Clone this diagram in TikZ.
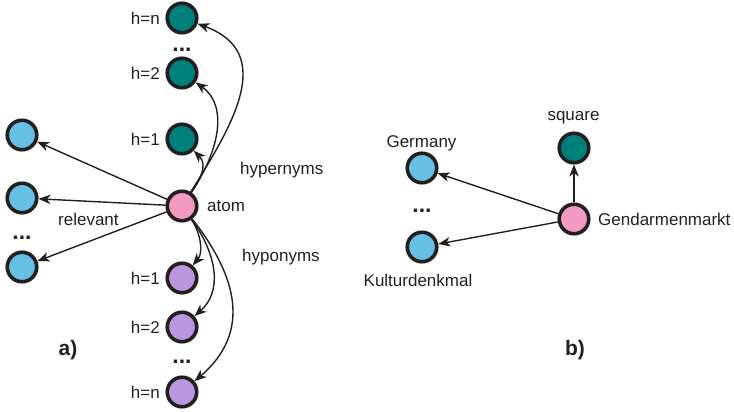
\documentclass[tikz,border=0pt]{standalone}
\usepackage{fontspec}
\setmainfont{Liberation Sans}
\usetikzlibrary{arrows.meta}
\definecolor{tealc}{RGB}{0,128,122}
\definecolor{pinkc}{RGB}{242,154,194}
\definecolor{bluec}{RGB}{102,192,228}
\definecolor{purpc}{RGB}{186,150,220}
\definecolor{txt}{RGB}{35,31,32}
\tikzset{
  dot/.style={circle,draw=txt,line width=3.6pt,minimum size=29.5pt,inner sep=0pt},
  hyper/.style={dot,fill=tealc},
  hypo/.style={dot,fill=purpc},
  rel/.style={dot,fill=bluec},
  src/.style={dot,fill=pinkc},
  lbl/.style={inner sep=0pt,text=txt,font=\fontsize{17}{20}\selectfont},
  dots/.style={inner sep=0pt,text=txt,font=\fontsize{23}{26}\selectfont\bfseries},
  panel/.style={inner sep=0pt,text=txt,font=\fontsize{21}{24}\selectfont\bfseries},
  conn/.style={draw=txt,line width=1.4pt,-{Stealth[length=12pt,width=9.5pt,inset=3.5pt]}}
}
\begin{document}
\begin{tikzpicture}[x=1pt,y=1pt]
\useasboundingbox (0,0) rectangle (734,412);
% panel a
\node[src] (atom) at (182,206) {};
\node[hyper] (T1) at (182,273) {};
\node[hyper] (T2) at (182,339) {};
\node[hyper] (Tn) at (182,394) {};
\node[hypo] (P1) at (182,134) {};
\node[hypo] (P2) at (182,85) {};
\node[hypo] (Pn) at (182,20) {};
\node[rel] (B1) at (22,277) {};
\node[rel] (B2) at (22,214) {};
\node[rel] (B3) at (22,145) {};
\node[dots,anchor=base] (dT) at (182,360) {...};
\node[dots,anchor=base] (dP) at (182,48) {...};
\node[dots,anchor=base] (dB) at (22,172) {...};
\node[lbl,anchor=base east] (lTn) at (160,387) {h=n};
\node[lbl,anchor=base east] (lT2) at (160,332) {h=2};
\node[lbl,anchor=base east] (lT1) at (160,266) {h=1};
\node[lbl,anchor=base east] (lP1) at (160,127) {h=1};
\node[lbl,anchor=base east] (lP2) at (160,78) {h=2};
\node[lbl,anchor=base east] (lPn) at (160,13) {h=n};
\node[lbl,anchor=base west] (latom) at (207,200) {atom};
\node[lbl,anchor=base west] (lhyper) at (240,237) {hypernyms};
\node[lbl,anchor=base west] (lhypo) at (242,150) {hyponyms};
\node[lbl,anchor=base west] (lrel) at (58,186) {relevant};
\node[panel,anchor=base] (pa) at (68,56) {a)};
\draw[conn] (atom) -- (B1);
\draw[conn] (atom) -- (B2);
\draw[conn] (atom) -- (B3);
\draw[conn] (atom) .. controls +(18,26) and +(26,-26) .. (T1);
\draw[conn] (atom) .. controls +(38,56) and +(46,-32) .. (T2);
\draw[conn] (atom) .. controls +(50,80) and +(95,-35) .. (Tn);
\draw[conn] (atom) .. controls +(18,-26) and +(22,26) .. (P1);
\draw[conn] (atom) .. controls +(36,-50) and +(40,35) .. (P2);
\draw[conn] (atom) .. controls +(55,-70) and +(70,60) .. (Pn);
% panel b
\node[src] (gm) at (574,193) {};
\node[hyper] (sq) at (574,264) {};
\node[rel] (ger) at (422,244) {};
\node[rel] (kul) at (422,165) {};
\node[dots,anchor=base] (dR) at (422,199) {...};
\node[lbl,anchor=base] (lger) at (421.5,264) {Germany};
\node[lbl,anchor=base] (lsq) at (573.5,291) {square};
\node[lbl,anchor=base west] (lgm) at (598,186) {Gendarmenmarkt};
\node[lbl,anchor=base] (lkul) at (418,125) {Kulturdenkmal};
\node[panel,anchor=base] (pb) at (575,56) {b)};
\draw[conn] (gm) -- (ger);
\draw[conn] (gm) -- (kul);
\draw[conn] (gm) -- (sq);
\end{tikzpicture}
\end{document}
